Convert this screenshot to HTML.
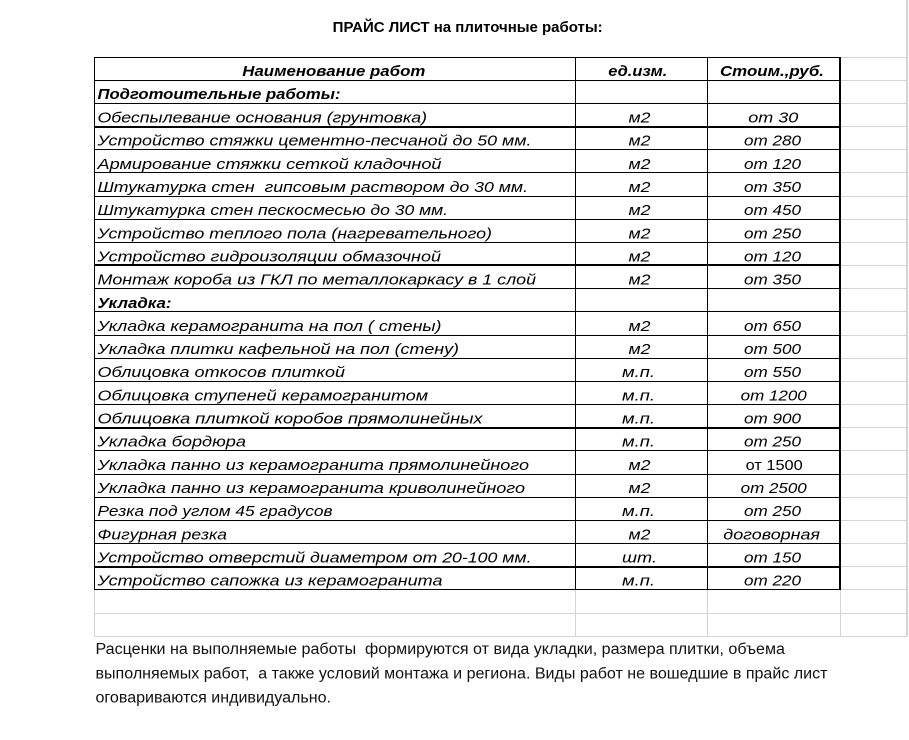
<!DOCTYPE html>
<html><head><meta charset="utf-8"><style>
html,body{margin:0;padding:0;background:#fff;width:909px;height:740px;overflow:hidden}
svg{display:block}
text{font-family:"Liberation Sans","Noto Sans CJK SC",sans-serif;fill:#000;white-space:pre}
.i{font-style:italic;font-size:15px}
.b{font-weight:bold}
.f{font-size:15.5px;fill:#111}
</style></head><body>
<svg width="909" height="740" viewBox="0 0 909 740" xmlns="http://www.w3.org/2000/svg">
<g stroke="#d4d4d4" stroke-width="1" fill="none">
<line x1="907.5" y1="0" x2="907.5" y2="636"/>
<line x1="906.5" y1="0" x2="906.5" y2="636"/>
<path d="M841 57.5H907M841 80.5H907M841 103.5H907M841 126.5H907M841 149.5H907M841 172.5H907M841 196.5H907M841 219.5H907M841 242.5H907M841 265.5H907M841 288.5H907M841 311.5H907M841 335.5H907M841 358.5H907M841 381.5H907M841 404.5H907M841 427.5H907M841 450.5H907M841 474.5H907M841 497.5H907M841 520.5H907M841 543.5H907M841 566.5H907M841 589.5H907"/>
<path d="M94 613.5H907M94 636.5H907M94.5 590V636M575.5 590V636M707.5 590V636M840.5 590V636"/>
</g>
<g stroke="#000" stroke-width="1" fill="none">
<path d="M94 57.5H841M94 80.5H841M94 103.5H841M94 149.5H841M94 172.5H841M94 196.5H841M94 219.5H841M94 242.5H841M94 288.5H841M94 311.5H841M94 335.5H841M94 358.5H841M94 381.5H841M94 404.5H841M94 450.5H841M94 474.5H841M94 497.5H841M94 520.5H841M94 543.5H841M94 589.5H841"/>
<path d="M94.5 57V590M575.5 57V590M707.5 57V590"/>
</g>
<g stroke="#000" stroke-width="2" fill="none">
<path d="M94 127H841M94 265H841M94 428H841M94 567H841M840 57V590"/>
</g>

<text class="b" x="332.7" y="32" font-size="14.5" textLength="270" lengthAdjust="spacingAndGlyphs">ПРАЙС ЛИСТ на плиточные работы:</text>

<text class="i b" x="242.3" y="76" textLength="183" lengthAdjust="spacingAndGlyphs">Наименование работ</text>
<text class="i b" x="608.3" y="76" textLength="59" lengthAdjust="spacingAndGlyphs">ед.изм.</text>
<text class="i b" x="720" y="76" textLength="104" lengthAdjust="spacingAndGlyphs">Стоим.,руб.</text>

<text class="i b" x="97.5" y="99" textLength="243" lengthAdjust="spacingAndGlyphs">Подготоительные работы:</text>

<g class="i">
<text x="97.5" y="122.5" textLength="329.5" lengthAdjust="spacingAndGlyphs">Обеспылевание основания (грунтовка)</text>
<text x="97.5" y="145.5" textLength="434" lengthAdjust="spacingAndGlyphs">Устройство стяжки цементно-песчаной до 50 мм.</text>
<text x="97.5" y="168.8" textLength="344" lengthAdjust="spacingAndGlyphs">Армирование стяжки сеткой кладочной</text>
<text x="97.5" y="192" textLength="430.5" lengthAdjust="spacingAndGlyphs">Штукатурка стен  гипсовым раствором до 30 мм.</text>
<text x="97.5" y="215.1" textLength="350.5" lengthAdjust="spacingAndGlyphs">Штукатурка стен пескосмесью до 30 мм.</text>
<text x="97.5" y="238.3" textLength="394.5" lengthAdjust="spacingAndGlyphs">Устройство теплого пола (нагревательного)</text>
<text x="97.5" y="261.4" textLength="343.5" lengthAdjust="spacingAndGlyphs">Устройство гидроизоляции обмазочной</text>
<text x="97.5" y="284.6" textLength="438.5" lengthAdjust="spacingAndGlyphs">Монтаж короба из ГКЛ по металлокаркасу в 1 слой</text>
</g>
<text class="i b" x="97.5" y="307.8" textLength="74" lengthAdjust="spacingAndGlyphs">Укладка:</text>
<g class="i">
<text x="97.5" y="330.9" textLength="344" lengthAdjust="spacingAndGlyphs">Укладка керамогранита на пол ( стены)</text>
<text x="97.5" y="354.1" textLength="361.5" lengthAdjust="spacingAndGlyphs">Укладка плитки кафельной на пол (стену)</text>
<text x="97.5" y="377.2" textLength="247.5" lengthAdjust="spacingAndGlyphs">Облицовка откосов плиткой</text>
<text x="97.5" y="400.4" textLength="330.5" lengthAdjust="spacingAndGlyphs">Облицовка ступеней керамогранитом</text>
<text x="97.5" y="423.6" textLength="385" lengthAdjust="spacingAndGlyphs">Облицовка плиткой коробов прямолинейных</text>
<text x="97.5" y="446.7" textLength="148.5" lengthAdjust="spacingAndGlyphs">Укладка бордюра</text>
<text x="97.5" y="469.9" textLength="431.5" lengthAdjust="spacingAndGlyphs">Укладка панно из керамогранита прямолинейного</text>
<text x="97.5" y="493" textLength="427.5" lengthAdjust="spacingAndGlyphs">Укладка панно из керамогранита криволинейного</text>
<text x="97.5" y="516.2" textLength="235" lengthAdjust="spacingAndGlyphs">Резка под углом 45 градусов</text>
<text x="97.5" y="539.4" textLength="129.5" lengthAdjust="spacingAndGlyphs">Фигурная резка</text>
<text x="97.5" y="562.5" textLength="434" lengthAdjust="spacingAndGlyphs">Устройство отверстий диаметром от 20-100 мм.</text>
<text x="97.5" y="585.7" textLength="345" lengthAdjust="spacingAndGlyphs">Устройство сапожка из керамогранита</text>

<text x="628.5" y="122.5" textLength="22" lengthAdjust="spacingAndGlyphs">м2</text>
<text x="628.5" y="145.5" textLength="22" lengthAdjust="spacingAndGlyphs">м2</text>
<text x="628.5" y="168.8" textLength="22" lengthAdjust="spacingAndGlyphs">м2</text>
<text x="628.5" y="192" textLength="22" lengthAdjust="spacingAndGlyphs">м2</text>
<text x="628.5" y="215.1" textLength="22" lengthAdjust="spacingAndGlyphs">м2</text>
<text x="628.5" y="238.3" textLength="22" lengthAdjust="spacingAndGlyphs">м2</text>
<text x="628.5" y="261.4" textLength="22" lengthAdjust="spacingAndGlyphs">м2</text>
<text x="628.5" y="284.6" textLength="22" lengthAdjust="spacingAndGlyphs">м2</text>
<text x="628.5" y="330.9" textLength="22" lengthAdjust="spacingAndGlyphs">м2</text>
<text x="628.5" y="354.1" textLength="22" lengthAdjust="spacingAndGlyphs">м2</text>
<text x="622" y="377.2" textLength="33" lengthAdjust="spacingAndGlyphs">м.п.</text>
<text x="622" y="400.4" textLength="33" lengthAdjust="spacingAndGlyphs">м.п.</text>
<text x="622" y="423.6" textLength="33" lengthAdjust="spacingAndGlyphs">м.п.</text>
<text x="622" y="446.7" textLength="33" lengthAdjust="spacingAndGlyphs">м.п.</text>
<text x="628.5" y="469.9" textLength="22" lengthAdjust="spacingAndGlyphs">м2</text>
<text x="628.5" y="493" textLength="22" lengthAdjust="spacingAndGlyphs">м2</text>
<text x="622" y="516.2" textLength="33" lengthAdjust="spacingAndGlyphs">м.п.</text>
<text x="628.5" y="539.4" textLength="22" lengthAdjust="spacingAndGlyphs">м2</text>
<text x="622" y="562.5" textLength="35" lengthAdjust="spacingAndGlyphs">шт.</text>
<text x="622" y="585.7" textLength="33" lengthAdjust="spacingAndGlyphs">м.п.</text>

<text x="748.3" y="122.5" textLength="50" lengthAdjust="spacingAndGlyphs">от 30</text>
<text x="744" y="145.5" textLength="57" lengthAdjust="spacingAndGlyphs">от 280</text>
<text x="744" y="168.8" textLength="57" lengthAdjust="spacingAndGlyphs">от 120</text>
<text x="744" y="192" textLength="57" lengthAdjust="spacingAndGlyphs">от 350</text>
<text x="744" y="215.1" textLength="57" lengthAdjust="spacingAndGlyphs">от 450</text>
<text x="744" y="238.3" textLength="57" lengthAdjust="spacingAndGlyphs">от 250</text>
<text x="744" y="261.4" textLength="57" lengthAdjust="spacingAndGlyphs">от 120</text>
<text x="744" y="284.6" textLength="57" lengthAdjust="spacingAndGlyphs">от 350</text>
<text x="744" y="330.9" textLength="57" lengthAdjust="spacingAndGlyphs">от 650</text>
<text x="744" y="354.1" textLength="57" lengthAdjust="spacingAndGlyphs">от 500</text>
<text x="744" y="377.2" textLength="57" lengthAdjust="spacingAndGlyphs">от 550</text>
<text x="740.7" y="400.4" textLength="66" lengthAdjust="spacingAndGlyphs">от 1200</text>
<text x="744" y="423.6" textLength="57" lengthAdjust="spacingAndGlyphs">от 900</text>
<text x="744" y="446.7" textLength="57" lengthAdjust="spacingAndGlyphs">от 250</text>
<text x="740.7" y="493" textLength="66" lengthAdjust="spacingAndGlyphs">от 2500</text>
<text x="744" y="516.2" textLength="57" lengthAdjust="spacingAndGlyphs">от 250</text>
<text x="723.3" y="539.4" textLength="96.7" lengthAdjust="spacingAndGlyphs">договорная</text>
<text x="744" y="562.5" textLength="57" lengthAdjust="spacingAndGlyphs">от 150</text>
<text x="744" y="585.7" textLength="57" lengthAdjust="spacingAndGlyphs">от 220</text>
</g>
<text x="745.7" y="469.9" font-size="15" textLength="57" lengthAdjust="spacingAndGlyphs">от 1500</text>

<text class="f" x="95.5" y="654" textLength="689.5" lengthAdjust="spacingAndGlyphs">Расценки на выполняемые работы  формируются от вида укладки, размера плитки, объема</text>
<text class="f" x="95.5" y="678.3" textLength="732" lengthAdjust="spacingAndGlyphs">выполняемых работ,  а также условий монтажа и региона. Виды работ не вошедшие в прайс лист</text>
<text class="f" x="95.5" y="702.7" textLength="235.5" lengthAdjust="spacingAndGlyphs">оговариваются индивидуально.</text>
</svg>
</body></html>
